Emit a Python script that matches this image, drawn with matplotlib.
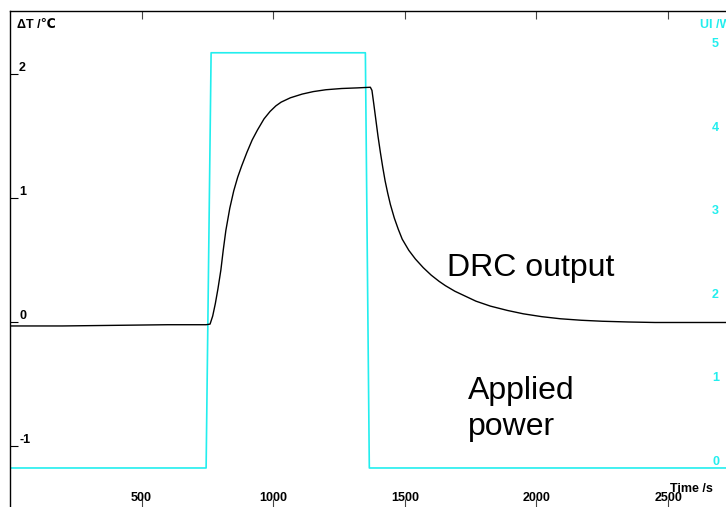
import matplotlib.pyplot as plt

# Data
# ****
# DRC output (temperature difference, left axis)
drc_time = [0, 200, 400, 600, 745, 760, 770, 780, 790, 801, 810, 820, 835, 850,
            865, 880, 900, 920, 940, 965, 988, 1010, 1030, 1065, 1110, 1152,
            1200, 1260, 1320, 1369, 1375, 1382, 1390, 1398, 1407, 1416, 1425,
            1435, 1445, 1460, 1475, 1490, 1515, 1540, 1570, 1600, 1630, 1654,
            1690, 1720, 1770, 1825, 1890, 1950, 2020, 2091, 2170, 2250, 2350,
            2450, 2720]
drc_value = [-0.03, -0.03, -0.025, -0.02, -0.02, -0.015, 0.05, 0.15, 0.27, 0.42,
             0.58, 0.74, 0.92, 1.06, 1.17, 1.26, 1.37, 1.47, 1.55, 1.64, 1.70,
             1.745, 1.775, 1.81, 1.84, 1.86, 1.875, 1.885, 1.89, 1.895, 1.87,
             1.76, 1.63, 1.50, 1.37, 1.25, 1.14, 1.04, 0.95, 0.84, 0.75, 0.67,
             0.58, 0.51, 0.44, 0.38, 0.33, 0.295, 0.25, 0.22, 0.17, 0.13, 0.095,
             0.068, 0.045, 0.028, 0.016, 0.008, 0.002, -0.002, -0.002]

# Applied power (right axis)
power_time = [0, 745, 764, 1350, 1365, 2720]
power_value = [0, 0, 4.97, 4.97, 0, 0]

x_ticks = [500, 1000, 1500, 2000, 2500]
left_ticks = [-1, 0, 1, 2]
right_ticks = [0, 1, 2, 3, 4, 5]

cyan = "#22EEEE"
fonts = ["Liberation Sans", "DejaVu Sans"]
plt.rcParams["font.family"] = fonts

# Set up figure
fig = plt.figure(figsize=(7.26, 5.07), dpi=100)
ax = fig.add_axes([10 / 726, 0, 716 / 726, 496 / 507])
ax2 = ax.twinx()

ax.plot(drc_time, drc_value, color="black", lw=1.0, zorder=3)
ax2.plot(power_time, power_value, color=cyan, lw=1.2)
ax.set_zorder(ax2.get_zorder() + 1)
ax.patch.set_visible(False)

ax.set_xlim(0, 2720)
ax.set_ylim(-1.49, 2.51)
ax2.set_ylim(-0.467, 5.47)

# Spines
for s in ["bottom", "right"]:
    ax.spines[s].set_visible(False)
for s in ["bottom", "right", "top", "left"]:
    ax2.spines[s].set_visible(False)
ax.spines["left"].set_linewidth(1.0)
ax.spines["top"].set_linewidth(1.0)

# Ticks
ax.set_xticks(x_ticks)
ax.set_xticklabels([str(t) for t in x_ticks])
ax.tick_params(axis="x", direction="in", top=True, length=6, width=0.8,
               color="#444444", pad=-11, labelsize=9)
for lbl in ax.get_xticklabels():
    lbl.set_fontweight("bold")

ax.set_yticks(left_ticks)
ax.set_yticklabels([str(t) for t in left_ticks])
ax.tick_params(axis="y", direction="in", length=6, width=0.8, pad=-6.5,
               labelsize=9)
for lbl in ax.get_yticklabels():
    lbl.set_fontweight("bold")
    lbl.set_horizontalalignment("left")
    lbl.set_verticalalignment("bottom")

ax2.set_yticks(right_ticks)
ax2.set_yticklabels([str(t) for t in right_ticks])
ax2.tick_params(axis="y", length=0, pad=-10, labelsize=9, labelcolor=cyan)
for lbl in ax2.get_yticklabels():
    lbl.set_fontweight("bold")
    lbl.set_verticalalignment("bottom")

# Axis titles
fig.text(17 / 726, 1 - 25 / 507, "\u0394T /\u2103", fontsize=9, fontweight="bold",
         ha="left", va="center")
fig.text(700 / 726, 1 - 25 / 507, "UI /W", fontsize=9, fontweight="bold",
         color=cyan, ha="left", va="center")
fig.text(670 / 726, 1 - 489 / 507, "Time /s", fontsize=9, fontweight="bold",
         ha="left", va="center")

# Annotations
fig.text(447 / 726, 1 - 268 / 507, "DRC output", fontsize=23, ha="left",
         va="center")
fig.text(468 / 726, 1 - 409 / 507, "Applied\npower", fontsize=23, ha="left",
         va="center", linespacing=1.3)

fig.savefig("out.png", dpi=100)
